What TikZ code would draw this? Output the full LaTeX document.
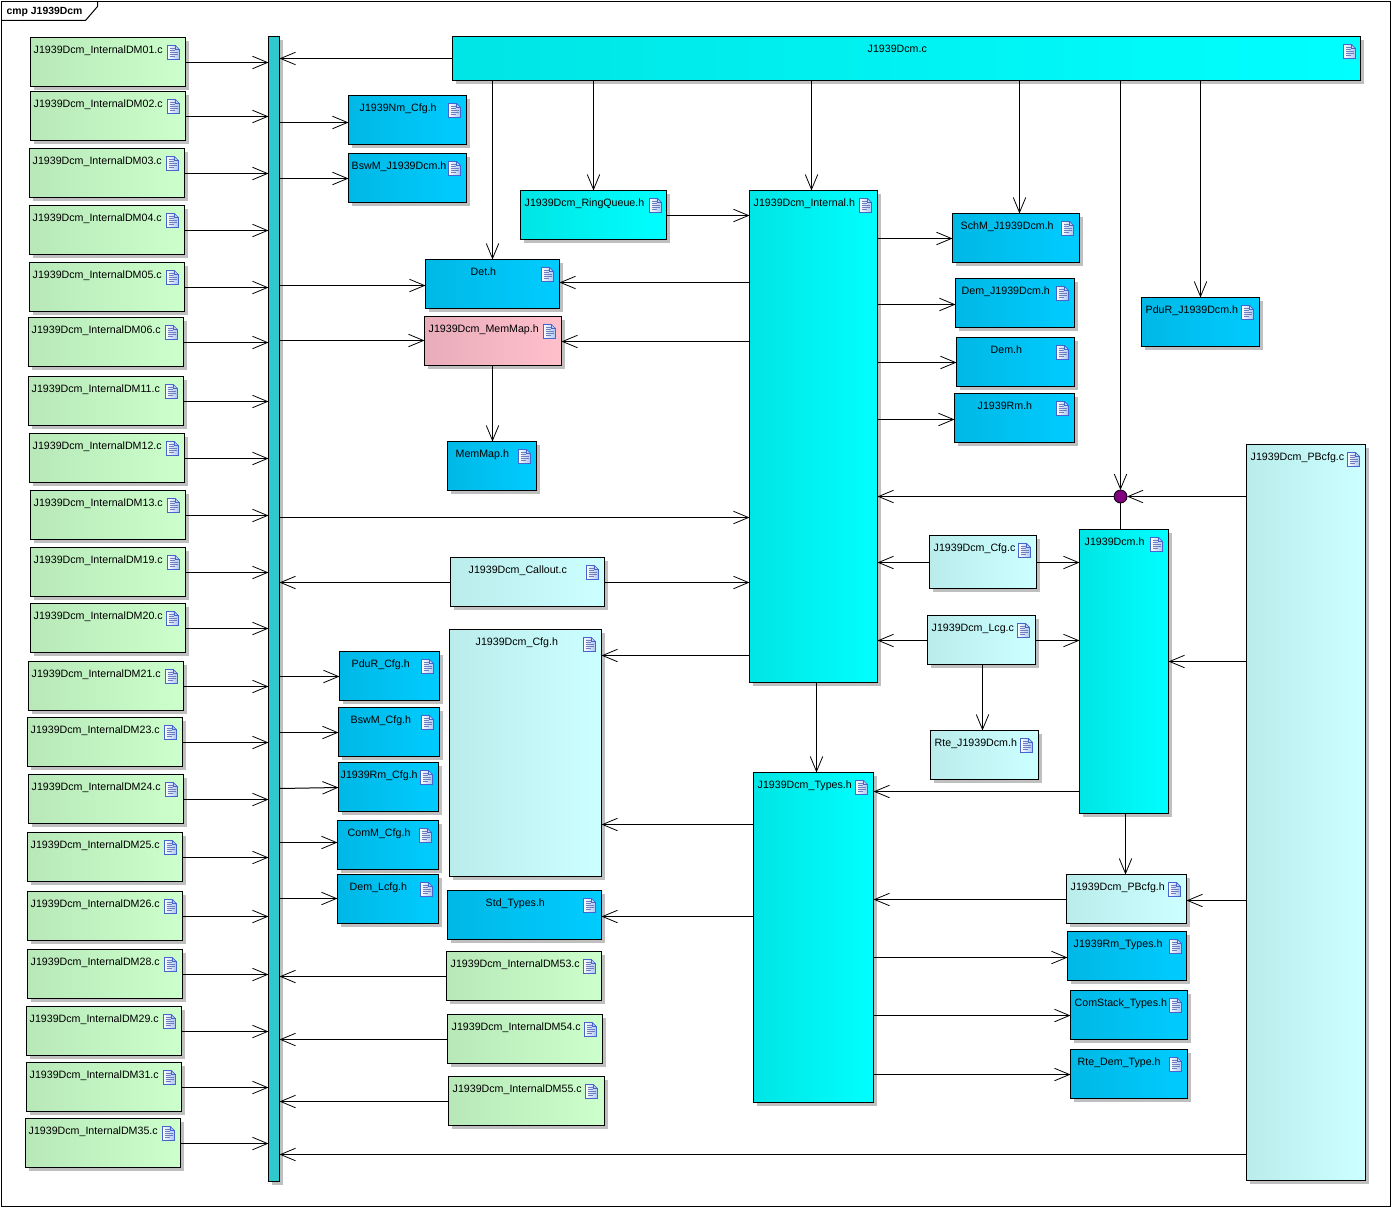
\documentclass[tikz,border=0pt]{standalone}
\usepackage{fontspec}
\setmainfont{Liberation Sans}
\usetikzlibrary{arrows.meta, shadows}

\definecolor{greenA}{RGB}{184,232,184}
\definecolor{greenB}{RGB}{204,255,204}
\definecolor{cyanA}{RGB}{0,229,229}
\definecolor{cyanB}{RGB}{0,255,255}
\definecolor{blueA}{RGB}{0,184,230}
\definecolor{blueB}{RGB}{0,204,255}
\definecolor{paleA}{RGB}{186,236,236}
\definecolor{paleB}{RGB}{204,255,255}
\definecolor{pinkA}{RGB}{232,172,186}
\definecolor{pinkB}{RGB}{255,192,203}
\definecolor{barfill}{RGB}{47,200,204}
\definecolor{iconblue}{RGB}{70,100,205}
\definecolor{iconfade}{RGB}{170,195,240}
\definecolor{iconline}{RGB}{110,125,190}
\definecolor{dotfill}{RGB}{128,0,128}

% name, style, x1, y1, x2, y2, text, text x, icon x
\newcommand{\artifact}[9]{%
  \node (#1) [#2, minimum width={(#5-#3-1)*1pt}, minimum height={(#6-#4-1)*1pt}] at (#3,#4) {};
  \node (#1txt) [artlabel] at (#8,#4+16) {#7};
  \pic at (#9-1,#4+8) {docicon};
}

\tikzset{
  docicon/.pic={
    \path [draw=iconblue, line width=0.7pt, left color=white, right color=iconfade]
      (0,0) -- (8,0) -- (12,4) -- (12,14) -- (0,14) -- cycle;
    \draw [iconblue, line width=0.5pt] (8,0) -- (8,4) -- (12,4);
    \draw [iconline, line width=0.8pt] (2,3) -- (7,3) (2,5) -- (7,5) (2,7) -- (10,7) (2,9) -- (10,9) (2,11) -- (7,11);
  }
}

\begin{document}
\begin{tikzpicture}[x=1pt, y=-1pt,
    artbase/.style={rectangle, anchor=north west, draw=black, line width=1pt, outer sep=0pt, inner sep=0pt,
      general shadow={fill=black!25, draw=none, shadow xshift=3.5pt, shadow yshift=-3.5pt}},
    dmfile/.style={artbase, left color=greenA, middle color=greenB, right color=greenB},
    maincomp/.style={artbase, left color=cyanA, middle color=cyanB, right color=cyanB},
    extfile/.style={artbase, left color=blueA, middle color=blueB, right color=blueB},
    cfgfile/.style={artbase, left color=paleA, middle color=paleB, right color=paleB},
    memfile/.style={artbase, left color=pinkA, middle color=pinkB, right color=pinkB},
    artlabel/.style={anchor=base west, inner sep=0pt, font=\fontsize{10.65}{12}\selectfont},
    arrow/.style={line width=1pt, -{Straight Barb[length=15pt, width=12.5pt, line width=0.8pt]}},
    plainline/.style={line width=1pt}
    ]

    \useasboundingbox (-0.5,-0.5) rectangle (1390.5,1206.5);

    % Frame
    \draw [line width=1pt] (1,1) rectangle (1390,1206);
    \draw [line width=1pt] (1,20) -- (85,20) -- (97,6) -- (97,1);
    \node (frametitle) [anchor=base west, inner sep=0pt, font=\fontsize{10.4}{12}\selectfont\bfseries] at (6,14) {cmp J1939Dcm};

    % Left column
    \artifact{dma}{dmfile}{30}{37}{186}{87}{J1939Dcm\_InternalDM01.c}{33}{168}
    \artifact{dmb}{dmfile}{30}{91}{186}{141}{J1939Dcm\_InternalDM02.c}{33}{168}
    \artifact{dmc}{dmfile}{29}{148}{185}{198}{J1939Dcm\_InternalDM03.c}{32}{167}
    \artifact{dmd}{dmfile}{29}{205}{185}{255}{J1939Dcm\_InternalDM04.c}{32}{167}
    \artifact{dme}{dmfile}{29}{262}{185}{312}{J1939Dcm\_InternalDM05.c}{32}{167}
    \artifact{dmf}{dmfile}{28}{317}{184}{367}{J1939Dcm\_InternalDM06.c}{31}{166}
    \artifact{dmk}{dmfile}{28}{376}{184}{426}{J1939Dcm\_InternalDM11.c}{31}{166}
    \artifact{dml}{dmfile}{29}{433}{185}{483}{J1939Dcm\_InternalDM12.c}{32}{167}
    \artifact{dmm}{dmfile}{30}{490}{186}{540}{J1939Dcm\_InternalDM13.c}{33}{168}
    \artifact{dms}{dmfile}{30}{547}{186}{597}{J1939Dcm\_InternalDM19.c}{33}{168}
    \artifact{dmt}{dmfile}{30}{603}{186}{653}{J1939Dcm\_InternalDM20.c}{33}{167}
    \artifact{dmu}{dmfile}{28}{661}{184}{711}{J1939Dcm\_InternalDM21.c}{31}{166}
    \artifact{dmw}{dmfile}{27}{717}{183}{767}{J1939Dcm\_InternalDM23.c}{30}{165}
    \artifact{dmx}{dmfile}{28}{774}{184}{824}{J1939Dcm\_InternalDM24.c}{31}{166}
    \artifact{dmy}{dmfile}{27}{832}{183}{882}{J1939Dcm\_InternalDM25.c}{30}{165}
    \artifact{dmz}{dmfile}{27}{891}{183}{941}{J1939Dcm\_InternalDM26.c}{30}{165}
    \artifact{dmaa}{dmfile}{27}{949}{183}{999}{J1939Dcm\_InternalDM28.c}{30}{165}
    \artifact{dmab}{dmfile}{26}{1006}{182}{1056}{J1939Dcm\_InternalDM29.c}{29}{164}
    \artifact{dmac}{dmfile}{26}{1062}{182}{1112}{J1939Dcm\_InternalDM31.c}{29}{164}
    \artifact{dmad}{dmfile}{25}{1118}{181}{1168}{J1939Dcm\_InternalDM35.c}{28}{163}

    % Vertical bar
    \node (bar) [artbase, fill=barfill, minimum width=11pt, minimum height=1145pt] at (268,36) {};

    % Top row and its headers
    \artifact{dcmc}{maincomp}{452}{36}{1361}{81}{J1939Dcm.c}{867}{1344}
    \artifact{nmcfg}{extfile}{348}{95}{467}{145}{J1939Nm\_Cfg.h}{359}{449}
    \artifact{bswmdcm}{extfile}{348}{153}{467}{203}{BswM\_J1939Dcm.h}{351}{449}
    \artifact{ringq}{maincomp}{520}{190}{667}{240}{J1939Dcm\_RingQueue.h}{524}{650}
    \artifact{internal}{maincomp}{749}{190}{878}{683}{J1939Dcm\_Internal.h}{753}{860}
    \artifact{schm}{extfile}{952}{213}{1080}{263}{SchM\_J1939Dcm.h}{960}{1062}
    \artifact{demdcm}{extfile}{955}{278}{1075}{328}{Dem\_J1939Dcm.h}{961}{1057}
    \artifact{demh}{extfile}{956}{337}{1075}{387}{Dem.h}{990}{1057}
    \artifact{rmh}{extfile}{954}{393}{1075}{443}{J1939Rm.h}{977}{1057}
    \artifact{pdurdcm}{extfile}{1141}{297}{1260}{347}{PduR\_J1939Dcm.h}{1145}{1242}
    \artifact{deth}{extfile}{425}{259}{560}{309}{Det.h}{470}{542}
    \artifact{memmapdcm}{memfile}{424}{316}{562}{366}{J1939Dcm\_MemMap.h}{428}{544}
    \artifact{memmap}{extfile}{447}{441}{537}{491}{MemMap.h}{455}{519}

    % Right side
    \artifact{dcmh}{maincomp}{1079}{529}{1169}{814}{J1939Dcm.h}{1084}{1151}
    \artifact{pbcfgc}{cfgfile}{1246}{444}{1366}{1181}{J1939Dcm\_PBcfg.c}{1250}{1348}
    \artifact{cfgc}{cfgfile}{929}{535}{1037}{589}{J1939Dcm\_Cfg.c}{933}{1019}
    \artifact{lcfgc}{cfgfile}{927}{615}{1036}{665}{J1939Dcm\_Lcg.c}{931}{1018}
    \artifact{rtedcm}{cfgfile}{930}{730}{1039}{780}{Rte\_J1939Dcm.h}{934}{1021}
    \artifact{types}{maincomp}{753}{772}{874}{1103}{J1939Dcm\_Types.h}{757}{856}
    \artifact{pbcfgh}{cfgfile}{1066}{874}{1187}{924}{J1939Dcm\_PBcfg.h}{1070}{1169}
    \artifact{rmtypes}{extfile}{1067}{931}{1187}{981}{J1939Rm\_Types.h}{1073}{1170}
    \artifact{comstack}{extfile}{1070}{990}{1188}{1040}{ComStack\_Types.h}{1074}{1170}
    \artifact{rtedem}{extfile}{1070}{1049}{1188}{1099}{Rte\_Dem\_Type.h}{1077}{1170}
    \node (dot) [circle, draw=black, fill=dotfill, line width=0.8pt, minimum size=13pt, inner sep=0pt, outer sep=0pt] at (1120,496) {};

    % Middle column
    \artifact{callout}{cfgfile}{450}{557}{605}{607}{J1939Dcm\_Callout.c}{468}{587}
    \artifact{cfgh}{cfgfile}{449}{629}{602}{877}{J1939Dcm\_Cfg.h}{475}{584}
    \artifact{stdtypes}{extfile}{447}{890}{602}{940}{Std\_Types.h}{485}{584}
    \artifact{dmba}{dmfile}{446}{951}{602}{1001}{J1939Dcm\_InternalDM53.c}{450}{584}
    \artifact{dmbb}{dmfile}{447}{1014}{603}{1064}{J1939Dcm\_InternalDM54.c}{451}{585}
    \artifact{dmbc}{dmfile}{448}{1076}{605}{1126}{J1939Dcm\_InternalDM55.c}{452}{586}
    \artifact{pdurcfg}{extfile}{339}{651}{440}{701}{PduR\_Cfg.h}{351}{422}
    \artifact{bswmcfg}{extfile}{338}{707}{440}{757}{BswM\_Cfg.h}{350}{422}
    \artifact{rmcfg}{extfile}{338}{762}{439}{812}{J1939Rm\_Cfg.h}{340}{421}
    \artifact{comcfg}{extfile}{337}{820}{439}{870}{ComM\_Cfg.h}{347}{420}
    \artifact{demlcfg}{extfile}{337}{874}{439}{924}{Dem\_Lcfg.h}{349}{421}

    % Arrows - left column to bar
    \draw [arrow] (dma.east |- 0,62) -- (bar.west |- 0,62);
    \draw [arrow] (dmb.east |- 0,116) -- (bar.west |- 0,116);
    \draw [arrow] (dmc.east |- 0,173) -- (bar.west |- 0,173);
    \draw [arrow] (dmd.east |- 0,230) -- (bar.west |- 0,230);
    \draw [arrow] (dme.east |- 0,287) -- (bar.west |- 0,287);
    \draw [arrow] (dmf.east |- 0,342) -- (bar.west |- 0,342);
    \draw [arrow] (dmk.east |- 0,401) -- (bar.west |- 0,401);
    \draw [arrow] (dml.east |- 0,458) -- (bar.west |- 0,458);
    \draw [arrow] (dmm.east |- 0,515) -- (bar.west |- 0,515);
    \draw [arrow] (dms.east |- 0,572) -- (bar.west |- 0,572);
    \draw [arrow] (dmt.east |- 0,628) -- (bar.west |- 0,628);
    \draw [arrow] (dmu.east |- 0,686) -- (bar.west |- 0,686);
    \draw [arrow] (dmw.east |- 0,742) -- (bar.west |- 0,742);
    \draw [arrow] (dmx.east |- 0,799) -- (bar.west |- 0,799);
    \draw [arrow] (dmy.east |- 0,857) -- (bar.west |- 0,857);
    \draw [arrow] (dmz.east |- 0,916) -- (bar.west |- 0,916);
    \draw [arrow] (dmaa.east |- 0,974) -- (bar.west |- 0,974);
    \draw [arrow] (dmab.east |- 0,1031) -- (bar.west |- 0,1031);
    \draw [arrow] (dmac.east |- 0,1087) -- (bar.west |- 0,1087);
    \draw [arrow] (dmad.east |- 0,1143) -- (bar.west |- 0,1143);

    % Arrows - bar
    \draw [arrow] (dcmc.west |- 0,58) -- (bar.east |- 0,58);
    \draw [arrow] (bar.east |- 0,122) -- (nmcfg.west |- 0,122);
    \draw [arrow] (bar.east |- 0,178) -- (bswmdcm.west |- 0,178);
    \draw [arrow] (bar.east |- 0,285) -- (deth.west |- 0,285);
    \draw [arrow] (bar.east |- 0,340) -- (memmapdcm.west |- 0,340);
    \draw [arrow] (bar.east |- 0,517) -- (internal.west |- 0,517);
    \draw [arrow] (callout.west |- 0,582) -- (bar.east |- 0,582);
    \draw [arrow] (bar.east |- 0,676) -- (pdurcfg.west |- 0,676);
    \draw [arrow] (bar.east |- 0,732) -- (bswmcfg.west |- 0,732);
    \draw [arrow] (bar.east |- 0,788) -- (rmcfg.west |- 0,787);
    \draw [arrow] (bar.east |- 0,842) -- (comcfg.west |- 0,842);
    \draw [arrow] (bar.east |- 0,898) -- (demlcfg.west |- 0,898);
    \draw [arrow] (dmba.west |- 0,976) -- (bar.east |- 0,976);
    \draw [arrow] (dmbb.west |- 0,1039) -- (bar.east |- 0,1039);
    \draw [arrow] (dmbc.west |- 0,1101) -- (bar.east |- 0,1101);
    \draw [arrow] (pbcfgc.west |- 0,1154) -- (bar.east |- 0,1154);

    % Arrows - J1939Dcm.c downwards
    \draw [arrow] (dcmc.south -| 492,0) -- (deth.north -| 492,0);
    \draw [arrow] (dcmc.south -| 593,0) -- (ringq.north -| 593,0);
    \draw [arrow] (dcmc.south -| 811,0) -- (internal.north -| 811,0);
    \draw [arrow] (dcmc.south -| 1019,0) -- (schm.north -| 1019,0);
    \draw [arrow] (dcmc.south -| 1120,0) -- (dot.north);
    \draw [arrow] (dcmc.south -| 1200,0) -- (pdurdcm.north -| 1200,0);

    % Arrows - Internal
    \draw [arrow] (ringq.east |- 0,215) -- (internal.west |- 0,215);
    \draw [arrow] (internal.west |- 0,282) -- (deth.east |- 0,282);
    \draw [arrow] (internal.west |- 0,341) -- (memmapdcm.east |- 0,341);
    \draw [arrow] (memmapdcm.south -| 492,0) -- (memmap.north -| 492,0);
    \draw [arrow] (internal.east |- 0,238) -- (schm.west |- 0,238);
    \draw [arrow] (internal.east |- 0,304) -- (demdcm.west |- 0,304);
    \draw [arrow] (internal.east |- 0,362) -- (demh.west |- 0,362);
    \draw [arrow] (internal.east |- 0,419) -- (rmh.west |- 0,419);
    \draw [arrow] (callout.east |- 0,582) -- (internal.west |- 0,582);
    \draw [arrow] (internal.west |- 0,655) -- (cfgh.east |- 0,655);
    \draw [arrow] (internal.south -| 816,0) -- (types.north -| 816,0);

    % Arrows - junction
    \draw [arrow] (dot.west) -- (internal.east |- dot.west);
    \draw [arrow] (pbcfgc.west |- dot.east) -- (dot.east);
    \draw [plainline] (dot.south) -- (dcmh.north -| dot.south);

    % Arrows - Cfg and Lcg
    \draw [arrow] (cfgc.west |- 0,562) -- (internal.east |- 0,562);
    \draw [arrow] (cfgc.east |- 0,562) -- (dcmh.west |- 0,562);
    \draw [arrow] (lcfgc.west |- 0,640) -- (internal.east |- 0,640);
    \draw [arrow] (lcfgc.east |- 0,640) -- (dcmh.west |- 0,640);
    \draw [arrow] (lcfgc.south -| 982,0) -- (rtedcm.north -| 982,0);

    % Arrows - Types
    \draw [arrow] (types.west |- 0,824) -- (cfgh.east |- 0,824);
    \draw [arrow] (types.west |- 0,916) -- (stdtypes.east |- 0,916);
    \draw [arrow] (dcmh.west |- 0,791) -- (types.east |- 0,791);
    \draw [arrow] (pbcfgh.west |- 0,899) -- (types.east |- 0,899);
    \draw [arrow] (types.east |- 0,957) -- (rmtypes.west |- 0,957);
    \draw [arrow] (types.east |- 0,1015) -- (comstack.west |- 0,1015);
    \draw [arrow] (types.east |- 0,1074) -- (rtedem.west |- 0,1074);

    % Arrows - PBcfg
    \draw [arrow] (pbcfgc.west |- 0,661) -- (dcmh.east |- 0,661);
    \draw [arrow] (pbcfgc.west |- 0,900) -- (pbcfgh.east |- 0,900);
    \draw [arrow] (dcmh.south -| 1125,0) -- (pbcfgh.north -| 1125,0);

\end{tikzpicture}
\end{document}
